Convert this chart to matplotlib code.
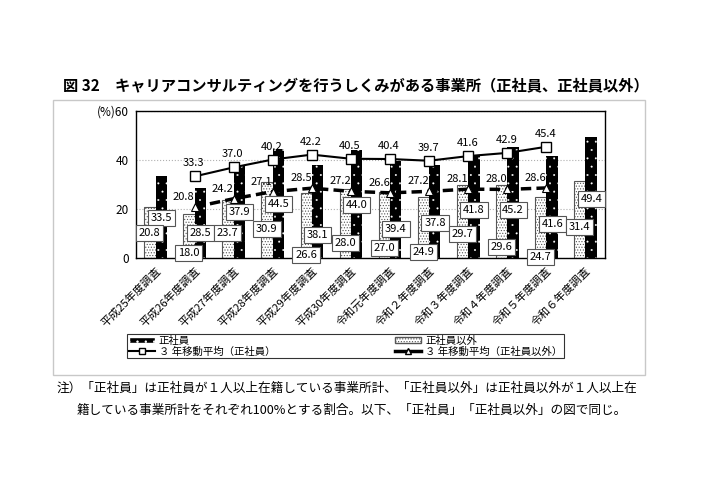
import matplotlib.pyplot as plt
import numpy as np
from matplotlib.patches import Rectangle, Patch
from matplotlib.lines import Line2D

plt.rcParams['font.family'] = ['Noto Sans CJK JP', 'DejaVu Sans']
plt.rcParams['hatch.linewidth'] = 0.5

# データ
categories = ['平成25年度調査', '平成26年度調査', '平成27年度調査', '平成28年度調査',
              '平成29年度調査', '平成30年度調査', '令和元年度調査', '令和２年度調査',
              '令和３年度調査', '令和４年度調査', '令和５年度調査', '令和６年度調査']
seishain = [33.5, 28.5, 37.9, 44.5, 38.1, 44.0, 39.4, 37.8, 41.8, 45.2, 41.6, 49.4]
igai = [20.8, 18.0, 23.7, 30.9, 26.6, 28.0, 27.0, 24.9, 29.7, 29.6, 24.7, 31.4]
ma_seishain = [np.nan, 33.3, 37.0, 40.2, 42.2, 40.5, 40.4, 39.7, 41.6, 42.9, 45.4, np.nan]
ma_igai = [np.nan, 20.8, 24.2, 27.1, 28.5, 27.2, 26.6, 27.2, 28.1, 28.0, 28.6, np.nan]

# ラベルの高さ（元の図の配置に合わせる）
seishain_label_y = [16.3, 10.2, 18.8, 22.0, 9.4, 21.6, 11.8, 14.3, 19.6, 19.6, 13.9, 24.1]
igai_label_y = [10.2, 2.0, 10.2, 11.8, 1.2, 6.1, 4.1, 2.4, 9.8, 4.5, 0.4, 12.7]

W, H = 711, 501
fig = plt.figure(figsize=(W / 100, H / 100), dpi=100)

# 外枠
fig.patches.append(Rectangle((53 / W, 1 - 375 / H), (645 - 53) / W, (375 - 100) / H,
                             transform=fig.transFigure, fill=False, ec='#c8c8c8', lw=1))

ax = fig.add_axes([136 / W, 1 - 258 / H, 469 / W, 147 / H])
x = np.arange(len(categories))
w = 0.29

ax.bar(x - w / 2, igai, w, color='white', edgecolor='#555555', hatch='......', linewidth=0.8, zorder=2)
with plt.rc_context({'hatch.linewidth': 0.2}):
    ax.bar(x + w / 2, seishain, w, color='black', edgecolor='white', hatch='..', linewidth=0, zorder=2)

ax.plot(x, ma_seishain, color='black', lw=1.5, marker='s', ms=7, mfc='white', mec='black', mew=1, zorder=4)
ax.plot(x, ma_igai, color='black', lw=2.5, ls=(0, (3, 1.5)), marker='^', ms=6,
        mfc='white', mec='black', mew=0.8, zorder=4)

box = dict(boxstyle='square,pad=0.25', fc='white', ec='#555555', lw=0.8)
for i in range(len(categories)):
    ax.text(x[i] + 0.15, seishain_label_y[i], f'{seishain[i]:.1f}', ha='center', va='center',
            fontsize=8, bbox=box, zorder=5)
    ax.text(x[i] - 0.15, igai_label_y[i], f'{igai[i]:.1f}', ha='center', va='center',
            fontsize=8, bbox=box, zorder=5)
    if not np.isnan(ma_seishain[i]):
        ax.annotate(f'{ma_seishain[i]:.1f}', (x[i], ma_seishain[i]), xytext=(-1, 13),
                    textcoords='offset pixels', ha='center', va='center', fontsize=8, zorder=6)
        ax.annotate(f'{ma_igai[i]:.1f}', (x[i], ma_igai[i]), xytext=(-11, 10),
                    textcoords='offset pixels', ha='center', va='center', fontsize=8, zorder=6)

ax.set_xlim(-0.5, len(categories) - 0.5)
ax.set_ylim(0, 60)
ax.set_yticks([0, 20, 40, 60])
ax.set_yticklabels(['0', '20', '40', '(%)60'], fontsize=8.5)
ax.set_xticks(x)
ax.set_xticklabels(categories, rotation=45, ha='right', rotation_mode='anchor', fontsize=8)
ax.tick_params(length=0, pad=5)
ax.grid(axis='y', color='#b0b0b0', ls=':', lw=0.8, zorder=0)
for s in ax.spines.values():
    s.set_linewidth(1)

with plt.rc_context({'hatch.linewidth': 0.2}):
    black_patch = Patch(facecolor='black', edgecolor='white', hatch='..', label='正社員')
handles = [black_patch,
           Line2D([], [], color='black', lw=1.5, marker='s', ms=5, mfc='white', mec='black',
                  label='３ 年移動平均（正社員）'),
           Patch(facecolor='white', edgecolor='#555555', hatch='......', label='正社員以外'),
           Line2D([], [], color='black', lw=2.5, marker='^', ms=4.5, mfc='white', mec='black',
                  label='３ 年移動平均（正社員以外）')]
leg = fig.legend(handles=handles, ncol=2, mode='expand', loc='lower left',
                 bbox_to_anchor=(127 / W, 1 - 358 / H, 437 / W, 25 / H),
                 fontsize=7.5, frameon=True, fancybox=False, edgecolor='black',
                 handlelength=2.5, handleheight=0.6, labelspacing=0.05, borderpad=0.15,
                 borderaxespad=0, handletextpad=0.4)
leg.get_frame().set_linewidth(0.8)

fig.text(63 / W, 1 - 85 / H, '図 32　キャリアコンサルティングを行うしくみがある事業所（正社員、正社員以外）',
         fontsize=11, fontweight='bold', va='center')
fig.text(57 / W, 1 - 388 / H,
         '注）「正社員」は正社員が１人以上在籍している事業所計、「正社員以外」は正社員以外が１人以上在',
         fontsize=9.1, va='center')
fig.text(77 / W, 1 - 410 / H,
         '籍している事業所計をそれぞれ100%とする割合。以下、「正社員」「正社員以外」の図で同じ。',
         fontsize=9.1, va='center')

fig.savefig('out.png', dpi=100)
